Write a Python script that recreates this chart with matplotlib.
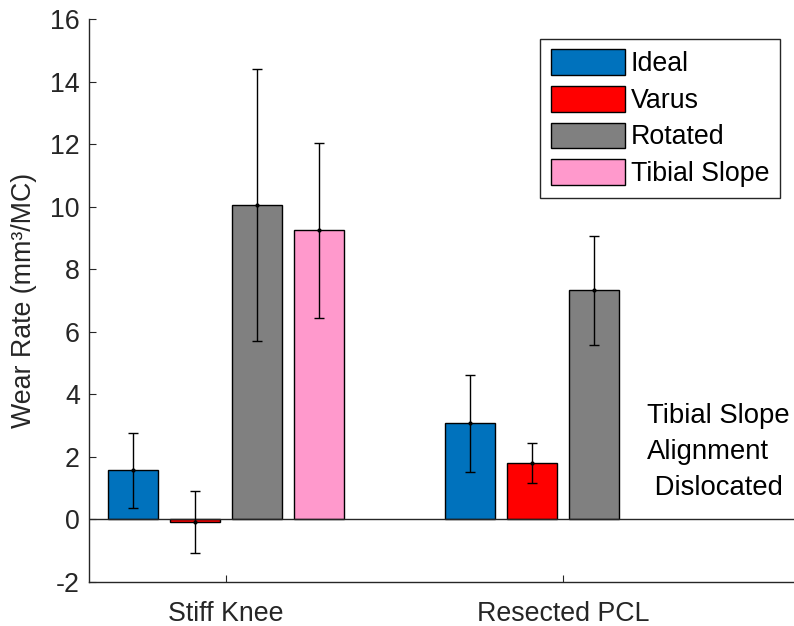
import numpy as np
import matplotlib.pyplot as plt

plt.rcParams['font.family'] = ['Liberation Sans', 'DejaVu Sans']
plt.rcParams['axes.unicode_minus'] = False

categories = ['Stiff Knee', 'Resected PCL']
series = ['Ideal', 'Varus', 'Rotated', 'Tibial Slope']
ideal = [1.57, 3.08]
ideal_err = [1.19, 1.55]
varus = [-0.08, 1.80]
varus_err = [1.00, 0.65]
rotated = [10.05, 7.33]
rotated_err = [4.35, 1.74]
tibial = [9.25, np.nan]
tibial_err = [2.80, np.nan]

colors = ['#0072BD', '#FF0000', '#808080', '#FF99CC']
values = [ideal, varus, rotated, tibial]
errors = [ideal_err, varus_err, rotated_err, tibial_err]

dark = '#262626'
fs = 19.3

fig = plt.figure(figsize=(7.94, 6.26), dpi=100)
ax = fig.add_axes([0.1121, 0.0703, 0.8879, 0.8994])

x = np.arange(1, len(categories) + 1)
step = 0.184
width = 0.148
for i, (vals, errs, c, name) in enumerate(zip(values, errors, colors, series)):
    pos = x + (i - 1.5) * step
    ax.bar(pos, vals, width=width, color=c, edgecolor='black', linewidth=1.0, label=name)
    ax.errorbar(pos, vals, yerr=errs, fmt='.', color='black', markersize=4,
                elinewidth=1.0, capsize=3.3, capthick=1.0)

ax.axhline(0, color=dark, linewidth=1.0, zorder=1)

ax.set_xlim(0.5935, 2.685)
ax.set_ylim(-2, 16)
ax.set_yticks(np.arange(-2, 17, 2))
ax.set_xticks(x)
ax.set_xticklabels(categories)
ax.tick_params(direction='in', length=5, width=0.8, colors=dark, labelsize=fs)
ax.tick_params(axis='x', pad=14)
ax.tick_params(axis='y', pad=6.5)
for s in ['top', 'right']:
    ax.spines[s].set_visible(False)
for s in ['left', 'bottom']:
    ax.spines[s].set_color(dark)
    ax.spines[s].set_linewidth(1.0)

ax.set_ylabel('Wear Rate (mm³/MC)', fontsize=fs, color=dark)
ax.yaxis.set_label_coords(-0.074, 0.5)

ax.text(2.249, 2.16, 'Tibial Slope\nAlignment\n Dislocated', ha='left', va='center',
        fontsize=fs + 0.5, color='black', linespacing=1.5)

leg = ax.legend(loc='upper right', bbox_to_anchor=(0.98, 0.965), fontsize=fs,
                frameon=True, fancybox=False, edgecolor=dark, framealpha=1,
                handlelength=2.75, handleheight=1.1, handletextpad=0.22,
                labelspacing=0.32, borderpad=0.4, borderaxespad=0)
leg.get_frame().set_linewidth(1.0)

fig.savefig('out.png', dpi=100)
